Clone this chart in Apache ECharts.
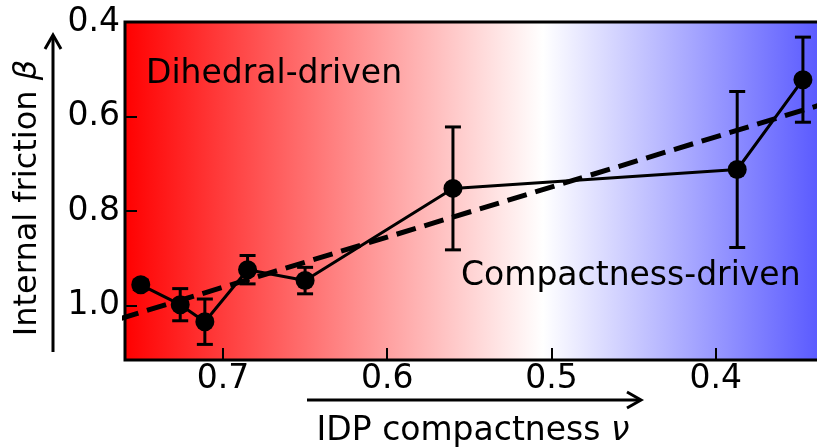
<!DOCTYPE html>
<html>
<head>
<meta charset="utf-8">
<script src="https://cdn.jsdelivr.net/npm/echarts@6/dist/echarts.min.js"></script>
<style>
  html, body { margin: 0; padding: 0; background: #fff; }
  #chart { width: 817px; height: 447px; }
</style>
</head>
<body>
<div id="chart"></div>
<script>
// IDP compactness (nu) and internal friction (beta) with error bars
const nuValues   = [0.750, 0.726, 0.711, 0.685, 0.650, 0.560, 0.387, 0.347];
const betaValues = [0.956, 0.998, 1.034, 0.924, 0.947, 0.752, 0.712, 0.522];
const betaErrors = [0.010, 0.034, 0.048, 0.030, 0.028, 0.130, 0.165, 0.090];

// linear trend line endpoints
const fitNu   = [0.78, 0.32];
const fitBeta = [1.046, 0.558];

const xTicks = [0.7, 0.6, 0.5, 0.4];
const yTicks = [0.4, 0.6, 0.8, 1.0];

const FONT = 'DejaVu Sans';
const FS = 33;

const points = nuValues.map((v, i) => [v, betaValues[i]]);
const errData = nuValues.map((v, i) => [v, betaValues[i] - betaErrors[i], betaValues[i] + betaErrors[i]]);
const fitData = fitNu.map((v, i) => [v, fitBeta[i]]);

const chart = echarts.init(document.getElementById('chart'));

chart.setOption({
  animation: false,
  grid: {
    left: 125, top: 22, bottom: 87, right: -4,
    outerBoundsMode: 'none',
    containLabel: false,
    show: true,
    borderColor: '#000',
    borderWidth: 3,
    backgroundColor: {
      type: 'linear', x: 0, y: 0, x2: 1, y2: 0,
      colorStops: [
        { offset: 0, color: 'rgb(255,0,0)' },
        { offset: 0.6, color: 'rgb(255,255,255)' },
        { offset: 1, color: 'rgb(88,88,255)' }
      ]
    }
  },
  xAxis: {
    type: 'value',
    inverse: true,
    min: 0.336,
    max: 0.7596,
    name: 'IDP compactness {i|ν}',
    nameLocation: 'middle',
    nameGap: 55,
    nameTextStyle: {
      fontFamily: FONT, fontSize: FS, color: '#000',
      rich: { i: { fontFamily: FONT, fontStyle: 'italic', fontSize: FS, color: '#000' } }
    },
    axisLine: { show: false },
    splitLine: { show: false },
    axisTick: { show: true, inside: true, length: 12, customValues: xTicks, lineStyle: { color: '#000', width: 2 } },
    axisLabel: {
      customValues: xTicks, margin: 3,
      fontFamily: FONT, fontSize: FS, color: '#000',
      formatter: v => v.toFixed(1)
    }
  },
  yAxis: {
    type: 'value',
    inverse: true,
    min: 0.4,
    max: 1.115,
    name: 'Internal friction {i|β}',
    nameLocation: 'middle',
    nameGap: 81,
    nameRotate: 90,
    nameTextStyle: {
      fontFamily: FONT, fontSize: 32, color: '#000',
      padding: [0, 14, 0, 0],
      rich: { i: { fontFamily: FONT, fontStyle: 'italic', fontSize: 32, color: '#000' } }
    },
    axisLine: { show: false },
    splitLine: { show: false },
    axisTick: { show: true, inside: true, length: 12, customValues: yTicks, lineStyle: { color: '#000', width: 2 } },
    axisLabel: {
      customValues: yTicks, margin: 5,
      fontFamily: FONT, fontSize: FS, color: '#000',
      formatter: v => v.toFixed(1)
    }
  },
  series: [
    {
      name: 'fit',
      type: 'line',
      data: fitData,
      symbol: 'none',
      clip: true,
      lineStyle: { color: '#000', width: 5, type: [20, 9] },
      z: 3
    },
    {
      name: 'errors',
      type: 'custom',
      data: errData,
      z: 4,
      renderItem: function (params, api) {
        const x = api.value(0);
        const lo = api.coord([x, api.value(1)]);
        const hi = api.coord([x, api.value(2)]);
        const hw = 8;
        const style = { stroke: '#000', lineWidth: 3, fill: null };
        return {
          type: 'group',
          children: [
            { type: 'line', shape: { x1: lo[0], y1: lo[1], x2: hi[0], y2: hi[1] }, style: style },
            { type: 'line', shape: { x1: lo[0] - hw, y1: lo[1], x2: lo[0] + hw, y2: lo[1] }, style: style },
            { type: 'line', shape: { x1: hi[0] - hw, y1: hi[1], x2: hi[0] + hw, y2: hi[1] }, style: style }
          ]
        };
      }
    },
    {
      name: 'beta',
      type: 'line',
      data: points,
      symbol: 'circle',
      symbolSize: 19,
      itemStyle: { color: '#000' },
      lineStyle: { color: '#000', width: 3 },
      z: 5
    }
  ],
  graphic: [
    {
      type: 'text', left: 146, top: 58, z: 10,
      style: { text: 'Dihedral-driven', fontFamily: FONT, fontSize: FS, fill: '#000' }
    },
    {
      type: 'text', left: 461, top: 260, z: 10,
      style: { text: 'Compactness-driven', fontFamily: FONT, fontSize: FS, fill: '#000' }
    },
    // vertical arrow beside the beta axis
    {
      type: 'polyline', z: 10,
      shape: { points: [[53, 352], [53, 36]] },
      style: { stroke: '#000', lineWidth: 3, fill: null }
    },
    {
      type: 'polyline', z: 10,
      shape: { points: [[45, 49], [53, 35], [61, 49]] },
      style: { stroke: '#000', lineWidth: 3, fill: null, lineJoin: 'miter' }
    },
    // horizontal arrow under the nu axis
    {
      type: 'polyline', z: 10,
      shape: { points: [[307, 400], [640, 400]] },
      style: { stroke: '#000', lineWidth: 3, fill: null }
    },
    {
      type: 'polyline', z: 10,
      shape: { points: [[627, 392], [641, 400], [627, 408]] },
      style: { stroke: '#000', lineWidth: 3, fill: null, lineJoin: 'miter' }
    }
  ]
});
</script>
</body>
</html>
